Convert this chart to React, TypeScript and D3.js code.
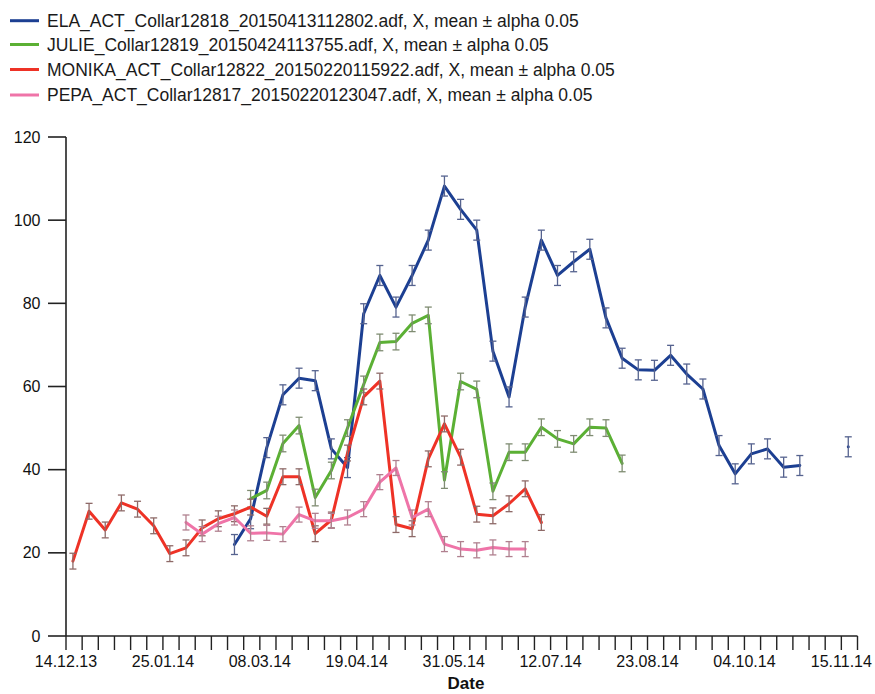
import React from "react";
import * as d3 from "d3";

// ---- data ----
const parseDate = d3.timeParse("%d.%m.%y");
const xDomainLabels = ["14.12.13", "22.11.14"];
const tickLabels = ["14.12.13", "25.01.14", "08.03.14", "19.04.14", "31.05.14", "12.07.14", "23.08.14", "04.10.14", "15.11.14"];
const firstSample = "17.12.13"; // weekly samples start here
const sampleCount = 49;
const yTicks = [0, 20, 40, 60, 80, 100, 120];

const seriesNames = [
  "ELA_ACT_Collar12818_20150413112802.adf, X, mean ± alpha 0.05",
  "JULIE_Collar12819_20150424113755.adf, X, mean ± alpha 0.05",
  "MONIKA_ACT_Collar12822_20150220115922.adf, X, mean ± alpha 0.05",
  "PEPA_ACT_Collar12817_20150220123047.adf, X, mean ± alpha 0.05",
];
const seriesColors = ["#1c3f92", "#5bb034", "#ee3226", "#ef74a8"];
const barColors = ["#56638f", "#7f8c72", "#8e6a68", "#b0808f"];
const seriesStart = [10, 11, 0, 7]; // index of first weekly sample

const elaValues = [22, 28.2, 45.3, 58, 62, 61.4, 45, 40.5, 77.5, 86.7, 79.1, 86.7, 95.2, 108.2, 102.6, 97.6, 68.5, 57.5, 79.1, 95.2, 86.7, 90, 93, 76.5, 66.8, 64, 63.9, 67.5, 63, 59.4, 45.8, 39, 43.8, 45, 40.6, 41, null, null, 45.5];
const julieValues = [33, 35, 46.3, 50.6, 33.3, 39.8, 50, 60.5, 70.6, 70.8, 75.2, 77.1, 37.5, 61.2, 59.3, 34.8, 44.2, 44.2, 50.2, 47.4, 46.2, 50.2, 50, 41.5];
const monikaValues = [18, 30, 25.5, 32, 30.5, 26.5, 19.8, 21.2, 26, 28.2, 29.4, 31, 28.8, 38.3, 38.3, 24.6, 27.9, 44, 57.5, 61.3, 26.8, 25.8, 42.6, 51, 43, 29.3, 28.9, 31.8, 35.4, 27.3];
const pepaValues = [27.3, 24.5, 27, 28.5, 24.7, 24.8, 24.5, 29.2, 27.7, 27.7, 28.5, 30.5, 37, 40.4, 28.5, 30.5, 22.1, 20.9, 20.6, 21.3, 20.9, 20.9];
const errHalf = [2.4, 2.0, 1.9, 1.8]; // ± confidence half-widths

const seriesValues = [elaValues, julieValues, monikaValues, pepaValues];

// ---- layout ----
const W = 875, H = 694;
const left = 66, right = 857.5, top = 137, bottom = 636;

export default function App() {
  const x = d3.scaleTime()
    .domain(xDomainLabels.map((s) => parseDate(s) as Date))
    .range([left, right]);
  const y = d3.scaleLinear().domain([0, 120]).range([bottom, top]);

  const start = parseDate(firstSample) as Date;
  const sampleDates = d3.range(sampleCount).map((i) => d3.timeDay.offset(start, 7 * i));
  const weekTicks = d3.timeDay.range(parseDate(tickLabels[0]) as Date, d3.timeDay.offset(parseDate(tickLabels[tickLabels.length - 1]) as Date, 1), 7);

  const font = "'Liberation Sans', Arial, Helvetica, sans-serif";

  const series = seriesValues.map((vals, si) =>
    vals.map((v, k) => ({ date: sampleDates[seriesStart[si] + k], v }))
  );

  const line = d3.line<{ date: Date; v: number | null }>()
    .defined((d) => d.v != null)
    .x((d) => x(d.date))
    .y((d) => y(d.v as number));

  return (
    <svg width={W} height={H} style={{ position: "absolute", left: 0, top: 0, display: "block", background: "#fff" }} fontFamily={font}>
      {/* legend */}
      {seriesNames.map((name, i) => {
        const ly = [20.7, 44.5, 69.5, 95][i];
        return (
          <g key={name}>
            <line x1={10} x2={39} y1={ly} y2={ly} stroke={seriesColors[i]} strokeWidth={3} />
            <text x={47} y={ly + 6} fontSize={17.5} fill="#1a1a1a">{name}</text>
          </g>
        );
      })}

      {/* y axis */}
      <line x1={left} x2={left} y1={top} y2={bottom} stroke="#222" strokeWidth={1.6} />
      {yTicks.map((t) => (
        <g key={t}>
          <line x1={48} x2={left} y1={y(t)} y2={y(t)} stroke="#222" strokeWidth={1.6} />
          <text x={40.5} y={y(t) + 5.5} fontSize={16} textAnchor="end" fill="#111">{t}</text>
        </g>
      ))}

      {/* x axis */}
      <line x1={left} x2={right} y1={bottom} y2={bottom} stroke="#222" strokeWidth={1.6} />
      {weekTicks.map((d, i) => (
        <line key={i} x1={x(d)} x2={x(d)} y1={bottom} y2={bottom + 14} stroke="#222" strokeWidth={1.4} />
      ))}
      <line x1={right} x2={right} y1={bottom} y2={bottom + 14} stroke="#222" strokeWidth={1.4} />
      {tickLabels.map((s) => (
        <text key={s} x={x(parseDate(s) as Date)} y={667} fontSize={16} textAnchor="middle" fill="#111">{s}</text>
      ))}
      <text x={466} y={689} fontSize={17} fontWeight="bold" textAnchor="middle" fill="#111">Date</text>

      {/* series */}
      {series.map((pts, si) => (
        <g key={si}>
          <path d={line(pts) || ""} fill="none" stroke={seriesColors[si]} strokeWidth={3} strokeLinejoin="round" strokeLinecap="round" />
          {pts.filter((p) => p.v != null).map((p, k) => {
            const cx = x(p.date);
            const y1 = y((p.v as number) + errHalf[si]);
            const y2 = y((p.v as number) - errHalf[si]);
            const c = barColors[si];
            return (
              <g key={k} stroke={c} strokeWidth={1.3}>
                <line x1={cx} x2={cx} y1={y1} y2={y2} />
                <line x1={cx - 3.5} x2={cx + 3.5} y1={y1} y2={y1} />
                <line x1={cx - 3.5} x2={cx + 3.5} y1={y2} y2={y2} />
              </g>
            );
          })}
        </g>
      ))}
    </svg>
  );
}
